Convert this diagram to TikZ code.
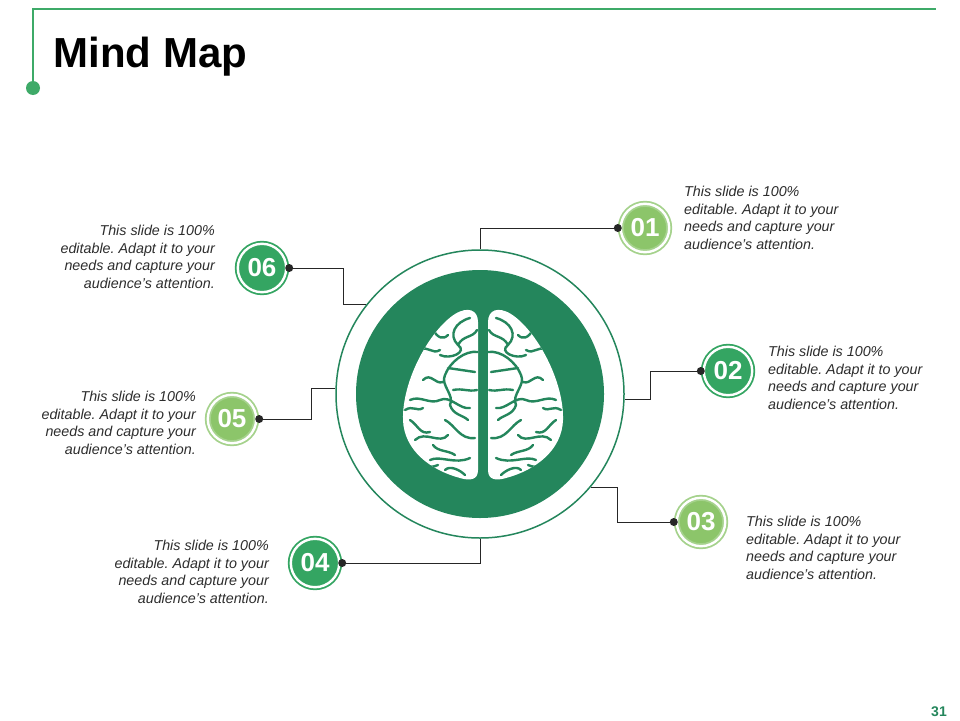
\documentclass[tikz,border=0pt]{standalone}
\usepackage{fontspec}
\setmainfont{Liberation Sans}
\definecolor{centergreen}{RGB}{36,134,92}
\definecolor{numgreen}{RGB}{52,165,98}
\definecolor{lightgreen}{RGB}{140,197,106}
\definecolor{lightring}{RGB}{165,210,140}
\definecolor{bargreen}{RGB}{62,170,104}
\definecolor{textgray}{RGB}{45,45,45}
\frenchspacing

\begin{document}
\begin{tikzpicture}[x=1pt, y=-1pt]
\tikzset{numbase/.style={circle, minimum size=48.4pt, inner sep=0, outer sep=3pt, line width=1.8pt, double=white, double distance=2.4pt, text=white, font=\fontsize{26}{26}\selectfont\bfseries},
  numdark/.style={numbase, draw=numgreen, fill=numgreen},
  numlight/.style={numbase, draw=lightring, fill=lightgreen},
  note/.style={inner sep=0, text=textgray, font=\fontsize{14.3}{17.7}\selectfont\itshape},
  noteleft/.style={note, anchor=north west, align=left},
  noteright/.style={note, anchor=north east, align=right},
  link/.style={draw=black!85, line width=1pt}}
\useasboundingbox (0,0) rectangle (960,720);
\fill[white] (0,0) rectangle (960,720);
\draw[bargreen, line width=2pt] (33,88) -- (33,9) -- (936,9);
\fill[bargreen] (33,88) circle (7pt);
\node[anchor=base west, font=\fontsize{42}{42}\selectfont\bfseries] (title) at (50,67) {Mind Map};
\node[anchor=base, text=centergreen, font=\fontsize{14}{14}\selectfont\bfseries] (page) at (939,716) {31};
\node[circle, draw=centergreen, line width=1.5pt, minimum size=288pt, inner sep=0] (brain) at (480,394) {};
\fill[centergreen] (brain.center) circle (124pt);
\foreach \side in {1,-1}{
  \begin{scope}[shift={(483,0)}, xscale=\side]
    \clip (-5,322) -- (-5,470) .. controls (-5,480) and (-13,481) .. (-23,478) .. controls (-53,470) and (-79,450) .. (-80,420) .. controls (-81,380) and (-53,330) .. (-28,314) .. controls (-15,306) and (-5,310) .. (-5,322) -- cycle;
    \fill[white] (-90,300) rectangle (0,490);
    \draw[centergreen, line width=2.4pt, line cap=round]
      (-13,318) .. controls (-28,322) and (-35,335) .. (-25,345) .. controls (-15,352) and (-33,360) .. (-43,355)
      (-5,352) .. controls (-18,350) and (-33,362) .. (-38,375) .. controls (-43,385) and (-28,395) .. (-33,405)
      (-8,372) -- (-35,368)
      (-73,400) .. controls (-63,395) and (-53,405) .. (-43,400) .. controls (-33,395) and (-23,410) .. (-13,408)
      (-68,440) .. controls (-58,430) and (-43,445) .. (-35,435)
      (-53,460) .. controls (-43,455) and (-28,465) .. (-13,458)
      (-63,350) .. controls (-55,345) and (-51,355) .. (-43,350)
      (-38,420) .. controls (-28,425) and (-23,440) .. (-8,438)
      (-73,420) .. controls (-65,425) and (-63,435) .. (-53,432)
      (-38,470) .. controls (-33,465) and (-23,470) .. (-18,475)
      (-60,380) .. controls (-52,372) and (-48,385) .. (-40,382)
      (-78,410) .. controls (-70,405) and (-66,412) .. (-60,408)
      (-25,345) .. controls (-20,335) and (-10,338) .. (-6,330)
      (-50,330) .. controls (-45,338) and (-40,340) .. (-35,335)
      (-33,405) .. controls (-30,415) and (-20,415) .. (-15,420)
      (-60,470) .. controls (-55,465) and (-50,468) .. (-45,465)
      (-30,390) .. controls (-20,388) and (-15,392) .. (-6,390)
      (-50,445) .. controls (-45,452) and (-35,450) .. (-28,455);
  \end{scope}
}
\node[numlight] (n01) at (645,228) {01};
\node[numdark] (n02) at (728,371) {02};
\node[numlight] (n03) at (701,522) {03};
\node[numdark] (n04) at (315,563) {04};
\node[numlight] (n05) at (232,419) {05};
\node[numdark] (n06) at (262,268) {06};
\draw[link] (n01.west) -| (brain.north);
\draw[link] (n02.west) -- ++(-50,0) |- (brain.-2);
\draw[link] (n03.west) -- ++(-56,0) |- (brain.-40);
\draw[link] (n04.east) -| (brain.south);
\draw[link] (n05.east) -- ++(52,0) |- (brain.178);
\draw[link] (n06.east) -- ++(54,0) |- (brain.142);
\foreach \p in {n01.west, n02.west, n03.west, n04.east, n05.east, n06.east}
  \fill[black!85] (\p) circle (4pt);
\node[noteleft] (t01) at (684,186) {This slide is 100\%\\editable. Adapt it to your\\needs and capture your\\audience's attention.};
\node[noteleft] (t02) at (768,346) {This slide is 100\%\\editable. Adapt it to your\\needs and capture your\\audience's attention.};
\node[noteleft] (t03) at (746,516) {This slide is 100\%\\editable. Adapt it to your\\needs and capture your\\audience's attention.};
\node[noteright] (t04) at (269,540) {This slide is 100\%\\editable. Adapt it to your\\needs and capture your\\audience's attention.};
\node[noteright] (t05) at (196,391) {This slide is 100\%\\editable. Adapt it to your\\needs and capture your\\audience's attention.};
\node[noteright] (t06) at (215,225) {This slide is 100\%\\editable. Adapt it to your\\needs and capture your\\audience's attention.};
\end{tikzpicture}
\end{document}
